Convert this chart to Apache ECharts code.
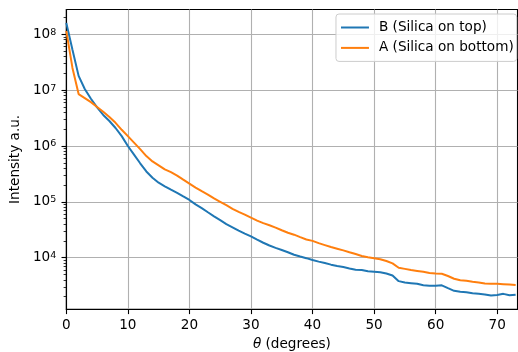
<!DOCTYPE html>
<html>
<head>
<meta charset="utf-8">
<script src="https://cdn.jsdelivr.net/npm/echarts@6/dist/echarts.min.js"></script>
<style>
  html, body { margin: 0; padding: 0; background: #fff; }
  #chart { width: 518px; height: 352px; }
</style>
</head>
<body>
<div id="chart"></div>
<script>
// Scattered intensity vs. angle, sampled every degree
const theta = [];
for (let i = 0; i <= 73; i++) theta.push(i);

const intensityB = [
  1.6e8, 5.3e7, 1.8e7, 1.05e7, 7.0e6, 4.9e6, 3.6e6, 2.8e6, 2.1e6, 1.5e6,
  1.0e6, 7.0e5, 4.9e5, 3.5e5, 2.7e5, 2.2e5, 1.9e5, 1.65e5, 1.45e5, 1.25e5,
  1.08e5, 9.0e4, 7.7e4, 6.5e4, 5.5e4, 4.7e4, 4.0e4, 3.5e4, 3.05e4, 2.7e4,
  2.4e4, 2.1e4, 1.85e4, 1.65e4, 1.5e4, 1.37e4, 1.25e4, 1.13e4, 1.05e4, 9.8e3,
  9.1e3, 8.5e3, 8.0e3, 7.5e3, 7.1e3, 6.8e3, 6.4e3, 6.1e3, 6.0e3, 5.7e3,
  5.6e3, 5.5e3, 5.2e3, 4.8e3, 3.8e3, 3.6e3, 3.5e3, 3.4e3, 3.2e3, 3.15e3,
  3.15e3, 3.2e3, 2.85e3, 2.55e3, 2.45e3, 2.4e3, 2.3e3, 2.25e3, 2.2e3, 2.1e3,
  2.15e3, 2.25e3, 2.12e3, 2.17e3
];

const intensityA = [
  1.15e8, 2.5e7, 8.5e6, 7.2e6, 6.1e6, 5.0e6, 4.1e6, 3.3e6, 2.6e6, 1.95e6,
  1.5e6, 1.15e6, 8.8e5, 6.6e5, 5.3e5, 4.5e5, 3.8e5, 3.4e5, 2.95e5, 2.5e5,
  2.12e5, 1.8e5, 1.55e5, 1.35e5, 1.15e5, 1.0e5, 8.7e4, 7.5e4, 6.6e4, 5.9e4,
  5.2e4, 4.6e4, 4.15e4, 3.8e4, 3.45e4, 3.1e4, 2.8e4, 2.58e4, 2.33e4, 2.12e4,
  2.0e4, 1.82e4, 1.68e4, 1.55e4, 1.45e4, 1.35e4, 1.25e4, 1.16e4, 1.07e4, 1.02e4,
  9.8e3, 9.4e3, 8.7e3, 7.9e3, 6.6e3, 6.3e3, 6.0e3, 5.8e3, 5.6e3, 5.3e3,
  5.2e3, 5.15e3, 4.7e3, 4.2e3, 3.95e3, 3.85e3, 3.7e3, 3.6e3, 3.45e3, 3.4e3,
  3.4e3, 3.35e3, 3.3e3, 3.25e3
];

const xTicks = [0, 10, 20, 30, 40, 50, 60, 70];
const yMajorTicks = [1e4, 1e5, 1e6, 1e7, 1e8];
const Y_MIN = 1190, Y_MAX = 2.78e8;
const yMinorTicks = [];
[1e3, 1e4, 1e5, 1e6, 1e7, 1e8].forEach(function (d) {
  for (let m = 2; m <= 9; m++) {
    const v = m * d;
    if (v > Y_MIN && v < Y_MAX) yMinorTicks.push(v);
  }
});

const seriesNames = ['B (Silica on top)', 'A (Silica on bottom)'];
const seriesColors = ['#1f77b4', '#ff7f0e'];

const FONT = 'DejaVu Sans';
const FS = 13.6;
const chart = echarts.init(document.getElementById('chart'), null, { renderer: 'canvas' });

function pairs(values) {
  return theta.map(function (t, i) { return [t, values[i]]; });
}

const option = {
  animation: false,
  textStyle: { fontFamily: FONT },
  grid: {
    left: 66.3, right: 0.5, top: 9.5, bottom: 42.7,
    outerBoundsMode: 'none',
    containLabel: false,
    show: true, borderColor: '#000', borderWidth: 1.1, backgroundColor: 'transparent'
  },
  legend: {
    orient: 'vertical',
    right: 1.3, top: 14,
    data: seriesNames,
    icon: 'rect',
    itemWidth: 28, itemHeight: 2, itemGap: 4.4,
    padding: [5.5, 3, 5.5, 5],
    backgroundColor: 'rgba(255,255,255,0.8)',
    borderColor: '#cccccc', borderWidth: 1, borderRadius: 3,
    textStyle: { fontFamily: FONT, fontSize: FS, color: '#000', lineHeight: 16, padding: [0, 0, 0, 5] }
  },
  xAxis: {
    type: 'value', min: 0, max: 73.3,
    name: '{i|θ} (degrees)', nameLocation: 'middle', nameGap: 26.5,
    nameTextStyle: {
      fontFamily: FONT, fontSize: FS, color: '#000',
      rich: { i: { fontFamily: FONT, fontSize: FS, fontStyle: 'italic', color: '#000' } }
    },
    axisLine: { show: true, lineStyle: { color: '#000', width: 1.1 } },
    axisTick: { show: true, length: 4.8, lineStyle: { color: '#000', width: 1.1 }, customValues: xTicks },
    axisLabel: { fontFamily: FONT, fontSize: FS, color: '#000', margin: 9, customValues: xTicks },
    splitLine: { show: true, lineStyle: { color: '#b0b0b0', width: 1.1 } }
  },
  yAxis: [
    {
      type: 'log', logBase: 10, min: Y_MIN, max: Y_MAX,
      position: 'left',
      name: 'Intensity a.u.', nameLocation: 'middle', nameGap: 40.5, nameRotate: 90,
      nameTextStyle: { fontFamily: FONT, fontSize: FS, color: '#000' },
      axisLine: { show: true, lineStyle: { color: '#000', width: 1.1 } },
      axisTick: { show: true, length: 4.8, lineStyle: { color: '#000', width: 1.1 }, customValues: yMajorTicks },
      axisLabel: {
        margin: 10, customValues: yMajorTicks,
        formatter: function (v) {
          return '{b|10}{s|' + Math.round(Math.log10(v)) + '}';
        },
        rich: {
          b: { fontFamily: FONT, fontSize: FS, color: '#000', lineHeight: 14 },
          s: { fontFamily: FONT, fontSize: 9.5, color: '#000', lineHeight: 4, verticalAlign: 'top' }
        }
      },
      splitLine: { show: true, lineStyle: { color: '#b0b0b0', width: 1.1 } }
    },
    {
      type: 'log', logBase: 10, min: Y_MIN, max: Y_MAX,
      position: 'left', offset: 0,
      axisLine: { show: false },
      axisTick: { show: true, length: 2.7, lineStyle: { color: '#000', width: 0.8 }, customValues: yMinorTicks },
      axisLabel: { show: false },
      splitLine: { show: false }
    }
  ],
  series: [
    {
      name: seriesNames[0], type: 'line', data: pairs(intensityB),
      symbol: 'none', color: seriesColors[0],
      lineStyle: { width: 2, color: seriesColors[0] }
    },
    {
      name: seriesNames[1], type: 'line', data: pairs(intensityA),
      symbol: 'none', color: seriesColors[1],
      lineStyle: { width: 2, color: seriesColors[1] }
    }
  ]
};

chart.setOption(option);
</script>
</body>
</html>
